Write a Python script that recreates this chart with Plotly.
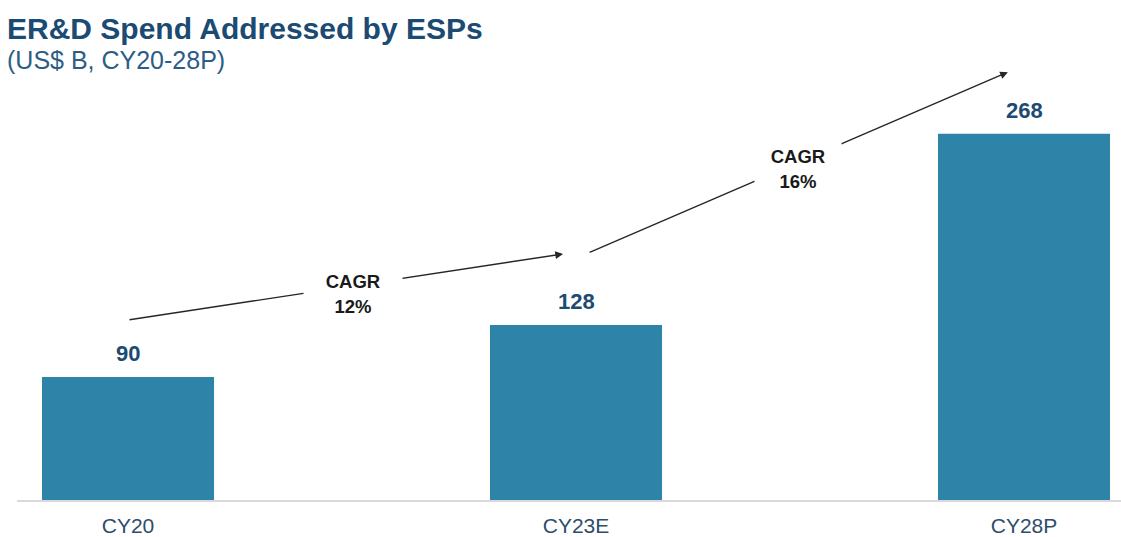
import plotly.graph_objects as go

# ER&D spend addressed by engineering service providers (US$ B)
categories = ["CY20", "CY23E", "CY28P"]
spend = [90, 128, 268]

# Growth callouts between consecutive periods
cagr_labels = ["CAGR<br>12%", "CAGR<br>16%"]

BAR_COLOR = "#2e83a8"
NAVY = "#1d4a72"
FONT = "Liberation Sans, Arial, sans-serif"

fig = go.Figure()

fig.add_trace(go.Bar(
    x=categories,
    y=spend,
    width=0.384,
    marker=dict(color=BAR_COLOR, line=dict(width=0)),
    hoverinfo="skip",
))

annotations = []

# value labels above each bar
for cat, val in zip(categories, spend):
    annotations.append(dict(
        x=cat, y=val, xref="x", yref="y",
        text=f"<b>{val}</b>", showarrow=False,
        yanchor="bottom", yshift=9,
        font=dict(family=FONT, size=22, color=NAVY),
    ))

# growth arrows (tail -> head in data units)
arrows = [
    dict(tail=(0.0, 131.7), head=(0.971, 180.0), label=(0.502, 151.0), box=(96, 60)),
    dict(tail=(1.027, 180.7), head=(1.964, 313.0), label=(1.495, 242.5), box=(84, 60)),
]
for arr, lab in zip(arrows, cagr_labels):
    annotations.append(dict(
        x=arr["head"][0], y=arr["head"][1], xref="x", yref="y",
        ax=arr["tail"][0], ay=arr["tail"][1], axref="x", ayref="y",
        text="", showarrow=True, arrowhead=2, arrowsize=1.1,
        arrowwidth=1.4, arrowcolor="#262626", standoff=0, startstandoff=0,
    ))
for arr, lab in zip(arrows, cagr_labels):
    annotations.append(dict(
        x=arr["label"][0], y=arr["label"][1], xref="x", yref="y",
        text=f"<b>{lab}</b>", showarrow=False,
        width=arr["box"][0], height=arr["box"][1],
        bgcolor="white", align="center",
        font=dict(family=FONT, size=18.5, color="#1a1a1a"),
    ))

# heading and unit line
annotations.append(dict(
    x=-12 / 1104, y=1.0, xref="paper", yref="paper",
    xanchor="left", yanchor="bottom", yshift=13,
    text="<b>ER&D Spend Addressed by ESPs</b>", showarrow=False,
    font=dict(family=FONT, size=30, color="#1b4a72"),
))
annotations.append(dict(
    x=-12 / 1104, y=1.0, xref="paper", yref="paper",
    xanchor="left", yanchor="bottom", yshift=-16,
    text="(US$ B, CY20-28P)", showarrow=False,
    font=dict(family=FONT, size=25, color="#2c5d86"),
))

fig.update_layout(
    width=1121, height=537,
    margin=dict(l=17, r=0, t=60, b=37),
    paper_bgcolor="white", plot_bgcolor="white",
    showlegend=False,
    annotations=annotations,
    xaxis=dict(
        type="category",
        range=[-0.2478, 2.2165],
        showline=True, linecolor="#d9d9d9", linewidth=2,
        showgrid=False, zeroline=False, ticks="",
        ticklabelstandoff=6,
        tickfont=dict(family=FONT, size=21, color="#2e4d6b"),
        fixedrange=True,
    ),
    yaxis=dict(
        range=[0, 321.9], visible=False, fixedrange=True,
    ),
)

fig.write_html("out.html")
